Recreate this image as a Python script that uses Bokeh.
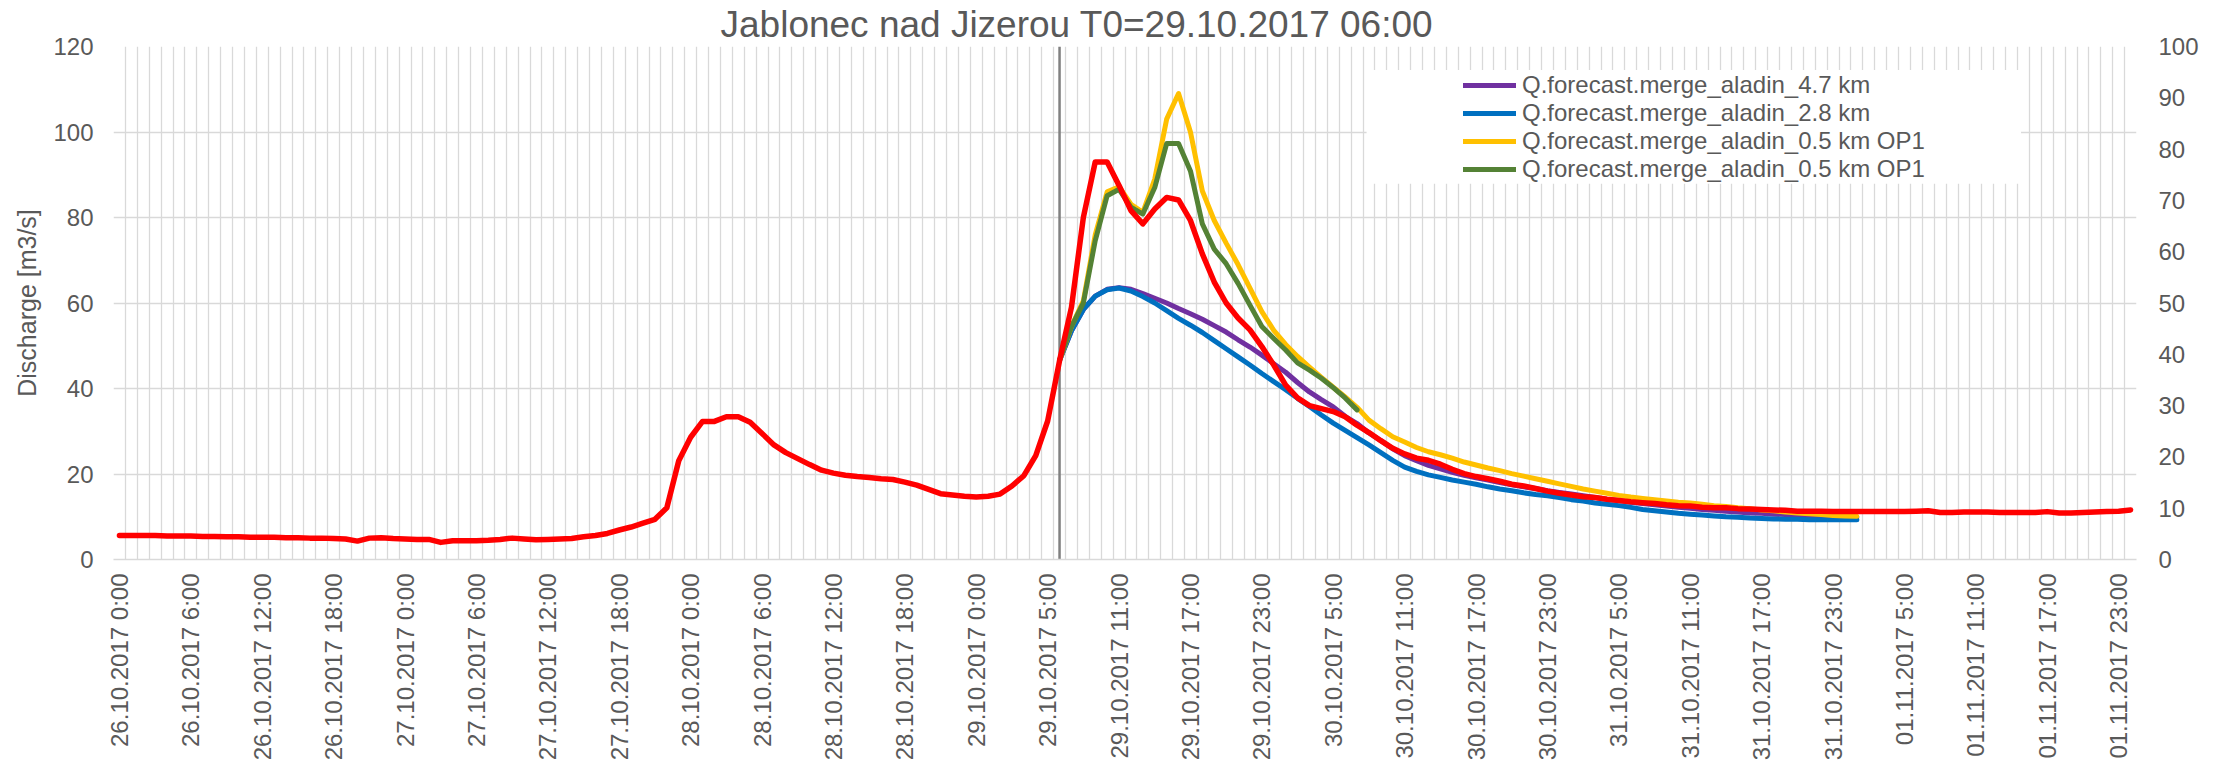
import math
from datetime import datetime, timedelta

from bokeh.plotting import figure
from bokeh.models import (Range1d, LinearAxis, FixedTicker, Legend, LegendItem,
                          BoxAnnotation, Title)
from bokeh.embed import file_html
from bokeh.resources import INLINE

# ---------------- data ----------------
TITLE = "Jablonec nad Jizerou T0=29.10.2017 06:00"
Y_LABEL = "Discharge [m3/s]"
T0_LABEL = "29.10.2017 6:00"

# hourly categories (local time, the DST change on 29.10.2017 repeats 2:00)
START_UTC = datetime(2017, 10, 25, 22, 0)
DST_END_UTC = datetime(2017, 10, 29, 1, 0)
N_HOURS = 170
CATEGORIES = []
for i in range(N_HOURS):
    t = START_UTC + timedelta(hours=i)
    loc = t + timedelta(hours=2 if t < DST_END_UTC else 1)
    CATEGORIES.append(f"{loc.day:02d}.{loc.month:02d}.{loc.year} {loc.hour}:{loc.minute:02d}")
TICK_STEP = 6

# observed discharge (red)
OBSERVED = [
    5.6, 5.6, 5.6, 5.6, 5.5, 5.5, 5.5, 5.4, 5.4, 5.3,
    5.3, 5.2, 5.2, 5.2, 5.1, 5.1, 5.0, 5.0, 4.9, 4.8,
    4.3, 5.0, 5.1, 4.9, 4.8, 4.7, 4.7, 4.0, 4.4, 4.4,
    4.4, 4.5, 4.7, 5.0, 4.8, 4.6, 4.7, 4.8, 4.9, 5.3,
    5.6, 6.1, 6.9, 7.6, 8.5, 9.4, 12.1, 23.1, 28.6, 32.3,
    32.3, 33.4, 33.4, 32.1, 29.5, 26.8, 25.0, 23.6, 22.2, 20.9,
    20.2, 19.7, 19.4, 19.2, 18.9, 18.7, 18.1, 17.4, 16.4, 15.4,
    15.1, 14.8, 14.6, 14.8, 15.3, 17.2, 19.6, 24.3, 32.4, 46.5,
    59.0, 80.0, 93.0, 93.0, 87.5, 81.6, 78.5, 82.0, 84.7, 84.1,
    79.3, 71.5, 64.9, 60.0, 56.5, 53.7, 49.8, 45.5, 40.8, 37.8,
    36.0, 35.3, 34.6, 33.4, 31.4, 29.7, 27.8, 26.0, 24.7, 23.7,
    23.2, 22.3, 21.1, 20.1, 19.4, 18.9, 18.3, 17.6, 17.2, 16.6,
    16.0, 15.5, 15.1, 14.7, 14.5, 14.1, 13.8, 13.5, 13.3, 13.1,
    12.8, 12.6, 12.5, 12.2, 12.1, 12.1, 11.9, 11.8, 11.7, 11.6,
    11.5, 11.3, 11.3, 11.3, 11.2, 11.2, 11.2, 11.2, 11.2, 11.2,
    11.2, 11.3, 11.4, 11.0, 11.0, 11.1, 11.1, 11.1, 11.0, 11.0,
    11.0, 11.0, 11.2, 10.9, 10.9, 11.0, 11.1, 11.2, 11.3, 11.6,
]

# forecasts, starting at T0
FC_47 = [
    46.6, 53.5, 58.5, 61.6, 63.2, 63.6, 63.2, 62.2, 61.1, 60.0,
    58.7, 57.5, 56.2, 54.7, 53.2, 51.4, 49.7, 47.8, 45.8, 43.8,
    41.4, 39.2, 37.4, 35.7, 33.5, 31.8, 29.6, 27.8, 25.9, 24.3,
    23.1, 22.0, 21.2, 20.4, 19.7, 19.1, 18.6, 18.0, 17.5, 17.0,
    16.6, 16.1, 15.7, 15.3, 14.9, 14.5, 14.1, 13.8, 13.4, 13.1,
    12.8, 12.5, 12.2, 12.0, 11.7, 11.5, 11.3, 11.1, 10.9, 10.8,
    10.6, 10.5, 10.3, 10.2, 10.1, 10.0, 10.0, 9.9,
]
FC_28 = [
    46.6, 53.5, 58.5, 61.6, 63.1, 63.5, 62.8, 61.5, 60.0, 58.2,
    56.4, 54.8, 53.1, 51.2, 49.3, 47.4, 45.5, 43.5, 41.6, 39.7,
    37.7, 35.8, 33.8, 31.9, 30.2, 28.5, 26.8, 25.0, 23.2, 21.6,
    20.6, 19.8, 19.2, 18.6, 18.1, 17.6, 17.0, 16.5, 16.1, 15.6,
    15.2, 14.9, 14.5, 14.0, 13.7, 13.2, 12.9, 12.6, 12.2, 11.7,
    11.4, 11.1, 10.8, 10.6, 10.4, 10.2, 10.0, 9.9, 9.7, 9.6,
    9.5, 9.4, 9.4, 9.3, 9.3, 9.3, 9.3, 9.3,
]
FC_05_A = [
    46.6, 54.5, 60.5, 76.0, 86.0, 87.2, 83.1, 81.2, 89.0, 103.0,
    109.0, 100.0, 86.2, 79.3, 74.0, 69.0, 63.5, 58.0, 53.6, 50.3,
    47.5, 45.0, 42.6, 40.3, 38.0, 35.6, 32.6, 30.6, 28.7, 27.5,
    26.2, 25.2, 24.5, 23.7, 22.8, 22.1, 21.4, 20.8, 20.1, 19.5,
    18.9, 18.3, 17.7, 17.1, 16.5, 16.0, 15.5, 15.0, 14.6, 14.3,
    14.0, 13.7, 13.4, 13.2, 12.9, 12.6, 12.4, 12.1, 11.9, 11.6,
    11.4, 11.1, 10.9, 10.7, 10.5, 10.3, 10.2, 10.1,
]
FC_05_B = [
    46.6, 54.5, 60.0, 74.6, 85.1, 86.6, 82.4, 80.8, 87.0, 97.3,
    97.3, 90.9, 78.5, 72.6, 69.2, 64.6, 59.5, 54.5, 51.7, 49.0,
    46.0, 44.3, 42.4, 40.2, 37.8, 35.0,
]

SERIES = [  # (legend label, values, colour)
    ("Q.forecast.merge_aladin_4.7 km", FC_47, "#7030A0"),
    ("Q.forecast.merge_aladin_2.8 km", FC_28, "#0070C0"),
    ("Q.forecast.merge_aladin_0.5 km OP1", FC_05_A, "#FFC000"),
    ("Q.forecast.merge_aladin_0.5 km OP1", FC_05_B, "#548235"),
]
OBS_COLOR = "#FF0000"

Y_TICKS = [0, 20, 40, 60, 80, 100, 120]
Y2_TICKS = [0, 10, 20, 30, 40, 50, 60, 70, 80, 90, 100]

# ---------------- styling ----------------
FONT = "Liberation Sans"
TXT = "#595959"
GRID = "#D9D9D9"

T0 = CATEGORIES.index(T0_LABEL)
n = len(CATEGORIES)

p = figure(width=2216, height=763,
           x_range=Range1d(-0.5, n - 0.5),
           y_range=Range1d(Y_TICKS[0], Y_TICKS[-1]),
           output_backend="svg", toolbar_location=None,
           min_border_left=113, min_border_right=80,
           min_border_top=46, min_border_bottom=203)
p.outline_line_color = None
p.background_fill_color = "white"

p.extra_y_ranges = {"right": Range1d(Y2_TICKS[0], Y2_TICKS[-1])}

# title
p.add_layout(Title(text=TITLE, align="left", offset=607, standoff=3,
                   text_font=FONT, text_font_size="37px",
                   text_font_style="normal", text_color=TXT), "above")

# x axis
xa = p.xaxis[0]
xa.ticker = FixedTicker(ticks=list(range(0, n, TICK_STEP)))
xa.major_label_overrides = {i: CATEGORIES[i] for i in range(0, n, TICK_STEP)}
xa.major_label_orientation = math.pi / 2
xa.major_label_text_font = FONT
xa.major_label_text_font_size = "24px"
xa.major_label_text_color = TXT
xa.major_label_standoff = 14
xa.major_tick_line_color = None
xa.minor_tick_line_color = None
xa.major_tick_out = 0
xa.minor_tick_out = 0
xa.axis_line_color = GRID
xa.axis_line_width = 1.3

# left y axis
ya = p.yaxis[0]
ya.ticker = FixedTicker(ticks=Y_TICKS)
ya.axis_label = Y_LABEL
ya.axis_label_text_font = FONT
ya.axis_label_text_font_size = "25px"
ya.axis_label_text_font_style = "normal"
ya.axis_label_text_color = TXT
ya.axis_label_standoff = 9
ya.major_label_text_font = FONT
ya.major_label_text_font_size = "24px"
ya.major_label_text_color = TXT
ya.major_label_standoff = 20
ya.axis_line_color = None
ya.major_tick_line_color = None
ya.minor_tick_line_color = None
ya.major_tick_out = 0
ya.minor_tick_out = 0

# right y axis
ra = LinearAxis(y_range_name="right", ticker=FixedTicker(ticks=Y2_TICKS))
ra.major_label_text_font = FONT
ra.major_label_text_font_size = "24px"
ra.major_label_text_color = TXT
ra.major_label_standoff = 22
ra.axis_line_color = None
ra.major_tick_line_color = None
ra.minor_tick_line_color = None
ra.major_tick_out = 0
ra.minor_tick_out = 0
p.add_layout(ra, "right")

# grids
p.ygrid.ticker = FixedTicker(ticks=Y_TICKS)
p.ygrid.grid_line_color = GRID
p.ygrid.grid_line_width = 1.3
p.xgrid.ticker = FixedTicker(ticks=[k - 0.5 for k in range(n + 1)])
p.xgrid.grid_line_color = GRID
p.xgrid.grid_line_width = 1.3

# T0 vertical line
p.segment(x0=[T0], x1=[T0], y0=[Y_TICKS[0]], y1=[Y_TICKS[-1]],
          line_color="#808080", line_width=2.5)

items = []
for label, vals, col in SERIES:
    xs = list(range(T0, T0 + len(vals)))
    r = p.line(xs, vals, line_color=col, line_width=5,
               line_join="round", line_cap="round")
    items.append(LegendItem(label=label, renderers=[r]))

p.line(list(range(n)), OBSERVED, line_color=OBS_COLOR, line_width=5.5,
       line_join="round", line_cap="round")

# legend background box and legend
p.add_layout(BoxAnnotation(left=104.8, right=159.8, bottom=87.9, top=114.5,
                           fill_color="white", fill_alpha=1.0, line_color=None))
legend = Legend(items=items, location=(1350, 376), orientation="vertical",
                padding=0, margin=0, spacing=0,
                glyph_width=53, glyph_height=28, label_height=28,
                label_standoff=6,
                label_text_font=FONT, label_text_font_size="24px",
                label_text_color=TXT,
                background_fill_alpha=0.0, border_line_color=None)
p.add_layout(legend)

open("out.html", "w").write(file_html(p, INLINE))
